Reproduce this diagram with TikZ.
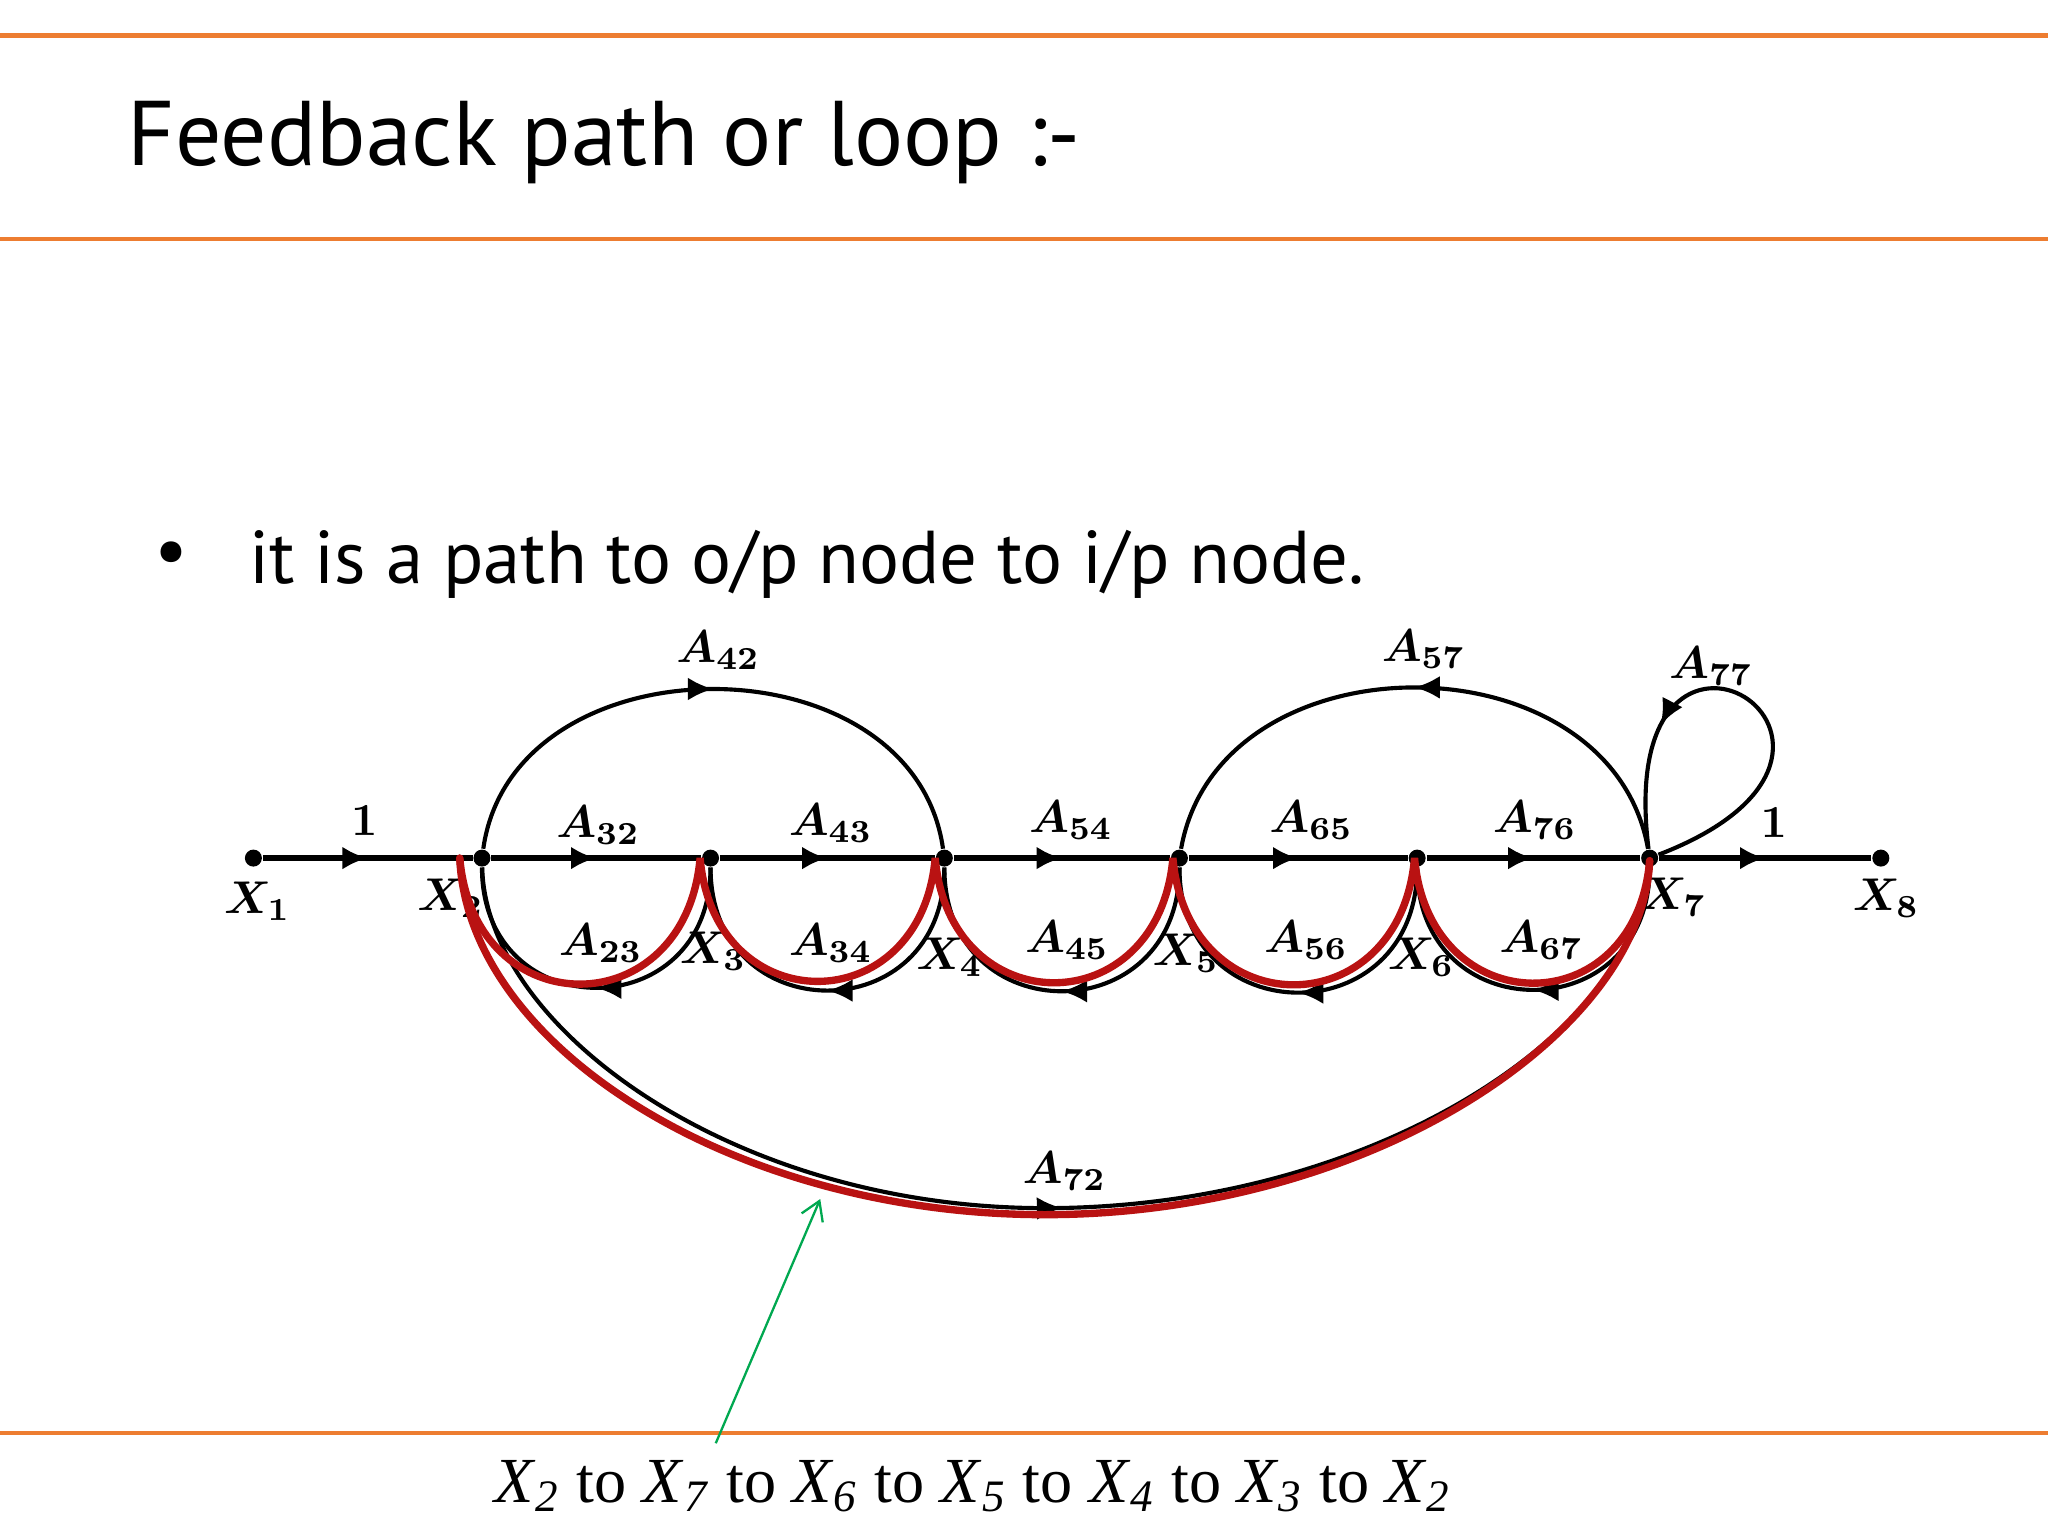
\documentclass[tikz,border=0pt]{standalone}
\usepackage{fontspec}
\usetikzlibrary{arrows.meta,decorations.markings}

\newfontfamily\slidefont{PT Sans}
\newfontfamily\scanfont{Liberation Serif}
\definecolor{slideorange}{RGB}{237,125,49}
\definecolor{loopred}{RGB}{185,18,18}
\definecolor{pointgreen}{RGB}{0,168,80}
\newcommand{\Xn}[1]{\textit{X}\textsubscript{\textit{#1}}}

\tikzset{
  dot/.style={circle,fill=black,inner sep=0pt,minimum size=1.3mm},
  branch/.style={line width=0.9pt,postaction={decorate},
    decoration={markings,mark=at position #1 with {\arrow{Latex[length=5.5pt,width=5pt]}}}},
  branch/.default=0.5,
  gain/.style={font=\boldmath},
  rule/.style={slideorange,line width=1pt},
  trace/.style={loopred,line width=1.6pt,line cap=round}
}

\begin{document}
\begin{tikzpicture}

\useasboundingbox (0,0) rectangle (15.68,11.76);
\fill[white] (0,0) rectangle (15.68,11.76);

% slide rules
\draw[rule] (0,11.49)--(15.68,11.49);
\draw[rule] (0,9.93)--(15.68,9.93);
\draw[rule] (0,0.79)--(15.68,0.79);

\node[anchor=base west,inner sep=0pt,font=\slidefont\fontsize{20}{24}\selectfont] (title) at (0.97,10.49) {Feedback path or loop :-};
\node[inner sep=0pt,font=\slidefont\fontsize{16.3}{20}\selectfont] (bul) at (1.31,7.48) {\textbullet};
\node[anchor=base west,inner sep=0pt,font=\slidefont\fontsize{16.3}{20}\selectfont] (intro) at (1.90,7.29) {it is a path to o/p node to i/p node.};

% graph nodes
\node[dot] (X1) at (1.94,5.19) {};
\node[dot] (X2) at (3.69,5.19) {};
\node[dot] (X3) at (5.44,5.19) {};
\node[dot] (X4) at (7.23,5.19) {};
\node[dot] (X5) at (9.03,5.19) {};
\node[dot] (X6) at (10.85,5.19) {};
\node[dot] (X7) at (12.63,5.19) {};
\node[dot] (X8) at (14.40,5.19) {};

% forward branches
\draw[branch,line width=1.2pt] (X1)--(X2);
\draw[branch,line width=1.2pt] (X2)--(X3);
\draw[branch,line width=1.2pt] (X3)--(X4);
\draw[branch,line width=1.2pt] (X4)--(X5);
\draw[branch,line width=1.2pt] (X5)--(X6);
\draw[branch,line width=1.2pt] (X6)--(X7);
\draw[branch,line width=1.2pt] (X7)--(X8);

% backward branches
\draw[branch] (X3) to[out=-90,in=-90,looseness=1.8] (X2);
\draw[branch] (X4) to[out=-90,in=-90,looseness=1.8] (X3);
\draw[branch] (X5) to[out=-90,in=-90,looseness=1.8] (X4);
\draw[branch] (X6) to[out=-90,in=-90,looseness=1.8] (X5);
\draw[branch] (X7) to[out=-90,in=-90,looseness=1.8] (X6);

% skip branches and self loop
\draw[branch] (X2) to[out=82,in=98,looseness=1.2] (X4);
\draw[branch] (X7) to[out=100,in=80,looseness=1.2] (X5);
\draw[branch=0.72] (X7) to[out=21,in=97,out distance=2.3cm,in distance=2.35cm] (X7);
\coordinate (b72) at (8.00,2.51);
\draw[branch] (X2) .. controls (3.72,3.90) and (5.60,2.51) .. (b72)
  .. controls (10.50,2.51) and (12.55,3.86) .. (X7);

% gains
\node[gain] at (2.79,5.48) {$1$};
\node[gain] at (4.58,5.44) {$A_{32}$};
\node[gain] at (6.36,5.46) {$A_{43}$};
\node[gain] at (8.20,5.48) {$A_{54}$};
\node[gain] at (10.04,5.48) {$A_{65}$};
\node[gain] at (11.75,5.48) {$A_{76}$};
\node[gain] at (13.58,5.46) {$1$};
\node[gain] at (4.60,4.54) {$A_{23}$};
\node[gain] at (6.36,4.54) {$A_{34}$};
\node[gain] at (8.17,4.56) {$A_{45}$};
\node[gain] at (10.00,4.56) {$A_{56}$};
\node[gain] at (11.80,4.56) {$A_{67}$};
\node[gain] at (5.50,6.78) {$A_{42}$};
\node[gain] at (10.90,6.79) {$A_{57}$};
\node[gain] at (13.10,6.66) {$A_{77}$};
\node[gain] at (8.15,2.79) {$A_{72}$};

% node names
\node[gain] at (1.97,4.86) {$X_1$};
\node[gain] at (3.45,4.88) {$X_2$};
\node[gain] at (5.46,4.48) {$X_3$};
\node[gain] at (7.27,4.43) {$X_4$};
\node[gain] at (9.08,4.46) {$X_5$};
\node[gain] at (10.88,4.43) {$X_6$};
\node[gain] at (12.81,4.89) {$X_7$};
\node[gain] at (14.44,4.88) {$X_8$};

% highlighted loop
\coordinate (r2) at (3.52,5.19);
\coordinate (r3) at (5.36,5.19);
\coordinate (r4) at (7.16,5.19);
\coordinate (r5) at (8.98,5.19);
\coordinate (r6) at (10.83,5.19);
\coordinate (r7) at (12.63,5.17);
\coordinate (rb) at (8.00,2.46);
\draw[trace] (r2) to[out=-85,in=-95,looseness=1.8] (r3)
  to[out=-85,in=-95,looseness=1.8] (r4)
  to[out=-85,in=-95,looseness=1.8] (r5)
  to[out=-85,in=-95,looseness=1.8] (r6)
  to[out=-85,in=-95,looseness=1.8] (r7);
\draw[trace] (r2) .. controls (3.58,3.76) and (5.60,2.46) .. (rb)
  .. controls (10.50,2.46) and (12.58,3.86) .. (r7);

% pointer to the loop
\node[anchor=base,inner sep=0pt,font=\scanfont\fontsize{14}{16}\selectfont] (seq) at (7.45,0.26)
  {\Xn{2}\ to \Xn{7}\ to \Xn{6}\ to \Xn{5}\ to \Xn{4}\ to \Xn{3}\ to \Xn{2}};
\coordinate (ptail) at (5.48,0.71);
\coordinate (phead) at (6.28,2.58);
\draw[pointgreen,line width=0.5pt,-{Straight Barb[length=4pt,width=5pt]}] (ptail)--(phead);

\end{tikzpicture}
\end{document}
